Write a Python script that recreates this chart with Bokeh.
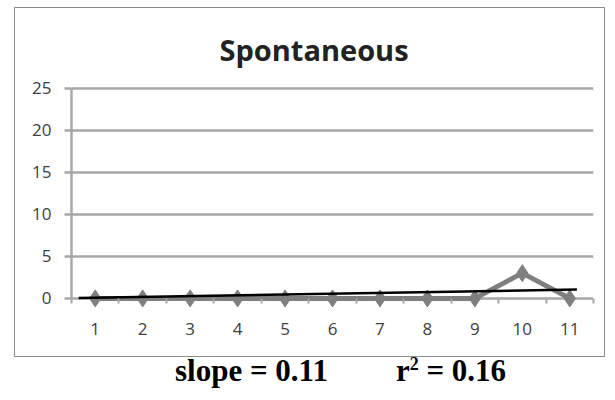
from bokeh.plotting import figure
from bokeh.models import Range1d, FixedTicker, Div
from bokeh.layouts import column
from bokeh.embed import file_html
from bokeh.resources import INLINE

# ---- data ----
categories = [1, 2, 3, 4, 5, 6, 7, 8, 9, 10, 11]
values = [0, 0, 0, 0, 0, 0, 0, 0, 0, 3, 0]
trend_x = [0.65, 11.15]
trend_y = [0.05, 1.05]
y_ticks = [0, 5, 10, 15, 20, 25]
title_text = "Spontaneous"
slope_text = "slope = 0.11"
r2_label = "r"
r2_sup = "2"
r2_value = " = 0.16"

GRID = "#a8a8a8"
TICKC = "#404040"

p = figure(width=591, height=350, output_backend="svg", toolbar_location=None,
           x_range=Range1d(0.5, 11.5), y_range=Range1d(-1.2, 25.3),
           min_border_left=56, min_border_right=13, min_border_top=77,
           min_border_bottom=50, margin=(7, 0, 0, 14),
           styles={"border": "1.5px solid #8c8c8c"})
p.outline_line_color = None
p.background_fill_color = "white"
p.border_fill_color = "white"

# title
p.title.text = title_text
p.title.align = "left"
p.title.offset = 148
p.title.standoff = 33
p.title.text_font = "Open Sans"
p.title.text_font_style = "bold"
p.title.text_font_size = "29px"
p.title.text_color = "#222222"

# grid
p.xgrid.visible = False
p.ygrid.ticker = FixedTicker(ticks=y_ticks)
p.ygrid.grid_line_color = GRID
p.ygrid.grid_line_width = 2.5

# y axis
ya = p.yaxis[0]
ya.ticker = FixedTicker(ticks=y_ticks)
ya.bounds = (0, 25)
ya.axis_line_color = GRID
ya.axis_line_width = 2.5
ya.major_tick_line_color = GRID
ya.major_tick_line_width = 2.5
ya.major_tick_out = 7
ya.major_tick_in = 0
ya.minor_tick_line_color = None
ya.major_label_standoff = 13
ya.major_label_text_font = "Open Sans"
ya.major_label_text_font_size = "17px"
ya.major_label_text_color = TICKC

# x axis (the zero gridline serves as its line)
xa = p.xaxis[0]
xa.ticker = FixedTicker(ticks=categories,
                        minor_ticks=[c - 0.5 for c in categories] + [categories[-1] + 0.5])
xa.axis_line_color = None
xa.major_tick_line_color = None
xa.major_tick_out = 0
xa.major_tick_in = 0
xa.minor_tick_line_color = GRID
xa.minor_tick_line_width = 2
xa.minor_tick_in = 10
xa.minor_tick_out = -5
xa.major_label_standoff = 14
xa.major_label_text_font = "Open Sans"
xa.major_label_text_font_size = "17px"
xa.major_label_text_color = TICKC

# data series
p.line(categories, values, line_color="#7f7f7f", line_width=5)
p.scatter(categories, values, marker="diamond", size=17, fill_color="#7f7f7f",
          line_color="#7f7f7f")
# trend line
p.line(trend_x, trend_y, line_color="black", line_width=2.5)

stats = Div(
    text=(f'<div style="font-family:\'Liberation Serif\',serif;font-weight:bold;'
          f'font-size:31px;line-height:31px;color:black;white-space:nowrap;'
          f'padding-left:175px;padding-top:0px;margin-top:-2px;">'
          f'{slope_text}<span style="display:inline-block;width:68px"></span>'
          f'{r2_label}<sup style="font-size:18px;line-height:0">{r2_sup}</sup>{r2_value}</div>'),
    width=599, height=32, margin=(0, 0, 0, 0))

layout = column(p, stats, spacing=0)
open("out.html", "w").write(file_html(layout, INLINE))
